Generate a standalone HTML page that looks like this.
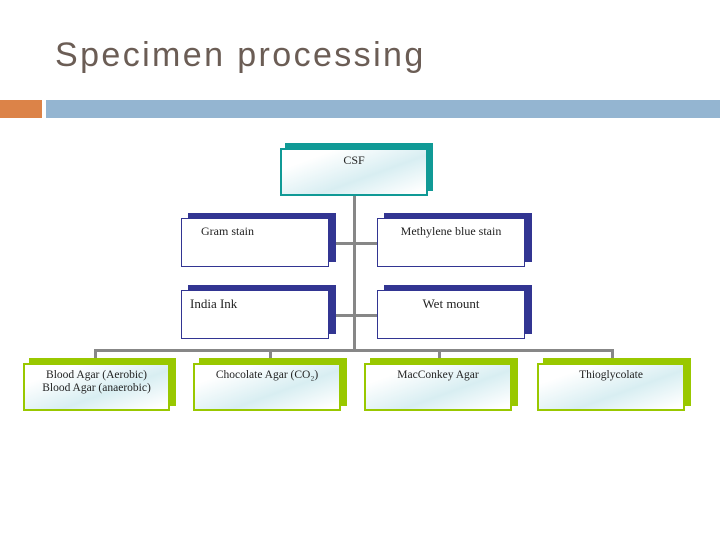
<!DOCTYPE html>
<html><head><meta charset="utf-8"><style>
body{margin:0;width:720px;height:540px;background:#fff;position:relative;overflow:hidden;font-family:"Liberation Serif",serif}
.a{position:absolute}
.t{font-family:"Liberation Sans",sans-serif;font-size:34px;color:#6b5d55;left:55px;top:36px;letter-spacing:2.4px;white-space:nowrap}
.f{position:absolute;box-sizing:border-box;font-size:12px;color:#222;text-align:center;padding-top:6px;line-height:13px}
.g{background:linear-gradient(160deg,#fff 20%,#d8eef2 60%,#fff 95%)}
.ln{position:absolute;background:#878787}
</style></head><body>
<div class="a t">Specimen processing</div>
<div class="a" style="left:0;top:100px;width:42px;height:18px;background:#dc8348"></div>
<div class="a" style="left:46px;top:100px;width:674px;height:18px;background:#94b5d1"></div>

<div class="ln" style="left:353px;top:195px;width:3px;height:157px"></div>
<div class="ln" style="left:329px;top:242px;width:48px;height:3px"></div>
<div class="ln" style="left:329px;top:314px;width:48px;height:3px"></div>
<div class="ln" style="left:94px;top:349px;width:520px;height:3px"></div>
<div class="ln" style="left:94px;top:349px;width:3px;height:11px"></div>
<div class="ln" style="left:269px;top:349px;width:3px;height:11px"></div>
<div class="ln" style="left:438px;top:349px;width:3px;height:11px"></div>
<div class="ln" style="left:611px;top:349px;width:3px;height:11px"></div>

<div class="a" style="left:285px;top:143px;width:148px;height:48px;background:#109a96"></div>
<div class="f g" style="left:280px;top:148px;width:148px;height:48px;border:2px solid #109a96;padding-top:4px">CSF</div>

<div class="a" style="left:188px;top:213px;width:148px;height:49px;background:#323592"></div>
<div class="f" style="left:181px;top:218px;width:148px;height:49px;background:#fff;border:1px solid #323592;text-align:left;padding-left:19px">Gram stain</div>
<div class="a" style="left:384px;top:213px;width:148px;height:49px;background:#323592"></div>
<div class="f" style="left:377px;top:218px;width:148px;height:49px;background:#fff;border:1px solid #323592">Methylene blue stain</div>
<div class="a" style="left:188px;top:285px;width:148px;height:49px;background:#323592"></div>
<div class="f" style="left:181px;top:290px;width:148px;height:49px;background:#fff;border:1px solid #323592;text-align:left;padding-left:8px;font-size:13px">India Ink</div>
<div class="a" style="left:384px;top:285px;width:148px;height:49px;background:#323592"></div>
<div class="f" style="left:377px;top:290px;width:148px;height:49px;background:#fff;border:1px solid #323592;font-size:13px">Wet mount</div>

<div class="a" style="left:29px;top:358px;width:147px;height:48px;background:#99c800"></div>
<div class="f g" style="left:23px;top:363px;width:147px;height:48px;border:2px solid #99c800;padding-top:4px;font-size:11.5px">Blood Agar (Aerobic)<br>Blood Agar (anaerobic)</div>
<div class="a" style="left:199px;top:358px;width:148px;height:48px;background:#99c800"></div>
<div class="f g" style="left:193px;top:363px;width:148px;height:48px;border:2px solid #99c800;padding-top:4px;font-size:11.5px">Chocolate Agar (CO₂)</div>
<div class="a" style="left:370px;top:358px;width:148px;height:48px;background:#99c800"></div>
<div class="f g" style="left:364px;top:363px;width:148px;height:48px;border:2px solid #99c800;padding-top:4px;font-size:11.5px">MacConkey Agar</div>
<div class="a" style="left:543px;top:358px;width:148px;height:48px;background:#99c800"></div>
<div class="f g" style="left:537px;top:363px;width:148px;height:48px;border:2px solid #99c800;padding-top:4px;font-size:11.5px">Thioglycolate</div>
</body></html>
